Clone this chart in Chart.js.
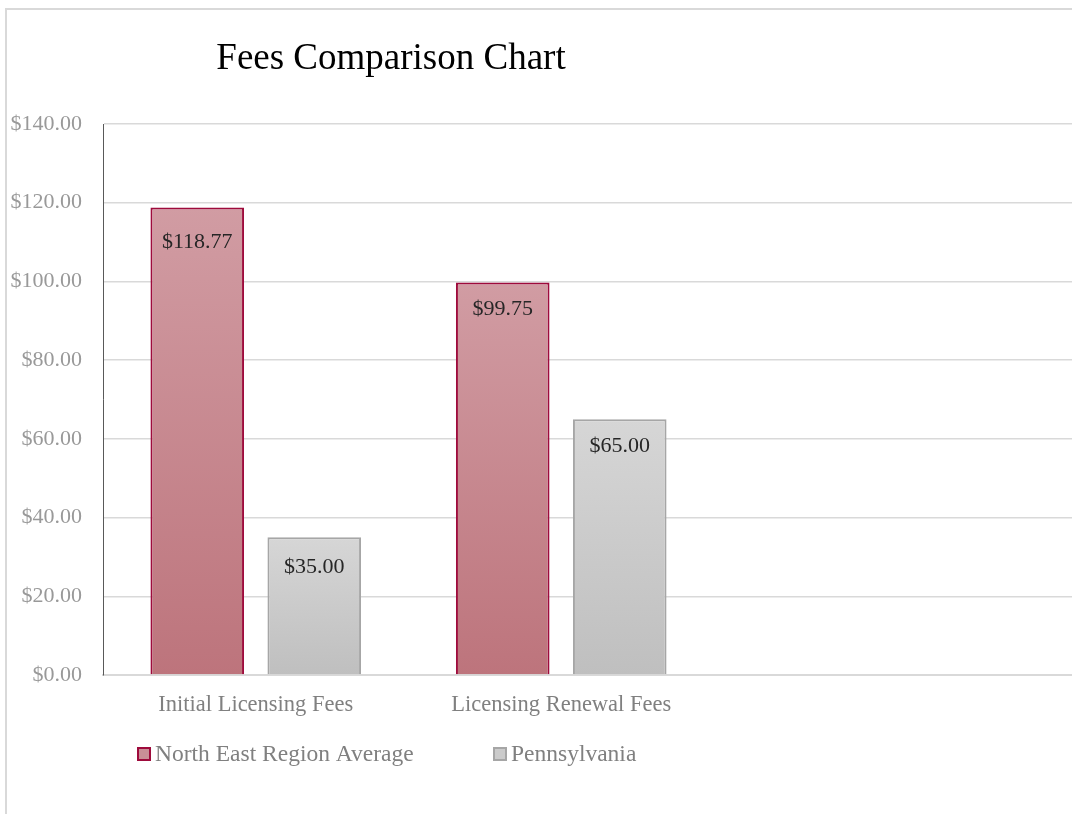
<!DOCTYPE html>
<html>
<head>
<meta charset="utf-8">
<script src="https://cdn.jsdelivr.net/npm/chart.js@4/dist/chart.umd.min.js"></script>
<style>
  html, body { margin: 0; padding: 0; background: #fff; overflow: hidden; }
  #frame {
    position: absolute; left: 5px; top: 8px; width: 2000px; height: 1000px;
    border-left: 2px solid #d9d9d9; border-top: 2px solid #d9d9d9;
  }
  #myChart { position: absolute; left: 0; top: 0; }
</style>
</head>
<body>
<div id="frame"></div>
<canvas id="myChart" width="1340" height="814"></canvas>
<script>
// data
const categories = ["Initial Licensing Fees", "Licensing Renewal Fees", "", ""];
const northEastAverage = [118.77, 99.75, null, null];
const pennsylvania = [35.0, 65.0, null, null];
const seriesNames = ["North East Region Average", "Pennsylvania"];
const yTicks = [0, 20, 40, 60, 80, 100, 120, 140];

// how far below each bar top its value label sits (per dataset, per category)
const labelDrop = [[35, 27], [30, 27]];

const serif = "'Liberation Serif', 'DejaVu Serif', serif";

// per-bar vertical gradient
function barFill(topColor, bottomColor) {
  return (ctx) => {
    const chart = ctx.chart;
    const y = chart.scales.y;
    if (!chart.chartArea || !y || ctx.raw == null) return bottomColor;
    const y0 = y.getPixelForValue(ctx.raw);
    const y1 = y.getPixelForValue(0);
    const g = chart.ctx.createLinearGradient(0, y0, 0, y1);
    g.addColorStop(0, topColor);
    g.addColorStop(1, bottomColor);
    return g;
  };
}

const money = (v) => "$" + Number(v).toFixed(2);

// title, value labels and legend
const extras = {
  id: "extras",
  afterDatasetsDraw(chart) {
    const c = chart.ctx;
    c.save();

    // value labels inside the bars
    c.font = "22px " + serif;
    c.fillStyle = "#262626";
    c.textAlign = "center";
    c.textBaseline = "middle";
    chart.data.datasets.forEach((ds, i) => {
      chart.getDatasetMeta(i).data.forEach((bar, j) => {
        if (ds.data[j] == null) return;
        c.fillText(money(ds.data[j]), bar.x, bar.y + labelDrop[i][j]);
      });
    });

    // title
    c.font = "37px " + serif;
    c.fillStyle = "#000";
    c.textBaseline = "alphabetic";
    c.fillText("Fees Comparison Chart", 391, 69);

    // legend
    const items = [
      { x: 138, fill: "#c98f97", stroke: "#9e0b3c" },
      { x: 494, fill: "#cbcbcb", stroke: "#a6a6a6" },
    ];
    c.font = "23.5px " + serif;
    c.textAlign = "left";
    c.textBaseline = "middle";
    items.forEach((it, i) => {
      c.fillStyle = it.fill;
      c.fillRect(it.x, 748, 12, 12);
      c.strokeStyle = it.stroke;
      c.lineWidth = 2;
      c.strokeRect(it.x, 748, 12, 12);
      c.fillStyle = "#808080";
      c.fillText(seriesNames[i], it.x + 17, 755);
    });
    c.restore();
  },
};

const config = {
  type: "bar",
  data: {
    labels: categories,
    datasets: [
      {
        label: seriesNames[0],
        data: northEastAverage,
        backgroundColor: barFill("#d19ca3", "#bd747c"),
        borderColor: "#9e0b3c",
        borderWidth: 2,
        categoryPercentage: 0.766,
        barPercentage: 0.8,
      },
      {
        label: seriesNames[1],
        data: pennsylvania,
        backgroundColor: barFill("#d6d6d6", "#bfbfbf"),
        borderColor: "#a6a6a6",
        borderWidth: 2,
        categoryPercentage: 0.766,
        barPercentage: 0.8,
      },
    ],
  },
  options: {
    responsive: false,
    animation: false,
    layout: { padding: { top: 124, right: 15, left: 0, bottom: 0 } },
    plugins: {
      legend: { display: false },
      tooltip: { enabled: false },
      title: { display: false },
    },
    scales: {
      x: {
        grid: { display: false },
        border: { color: "#d9d9d9", width: 2 },
        ticks: {
          color: "#808080",
          font: { family: serif, size: 22.5 },
          padding: 9,
          maxRotation: 0,
        },
        afterFit: (scale) => { scale.height = 139; },
      },
      y: {
        min: 0,
        max: 140,
        afterBuildTicks: (scale) => { scale.ticks = yTicks.map((v) => ({ value: v })); },
        grid: { color: "#d9d9d9", lineWidth: 1.5, drawTicks: false },
        border: { color: "#595959", width: 1 },
        ticks: {
          color: "#999999",
          font: { family: serif, size: 22 },
          padding: 21,
          callback: (v) => money(v),
        },
        afterFit: (scale) => { scale.width = 103; },
      },
    },
  },
  plugins: [extras],
};

const myChart = new Chart(document.getElementById("myChart"), config);
</script>
</body>
</html>
